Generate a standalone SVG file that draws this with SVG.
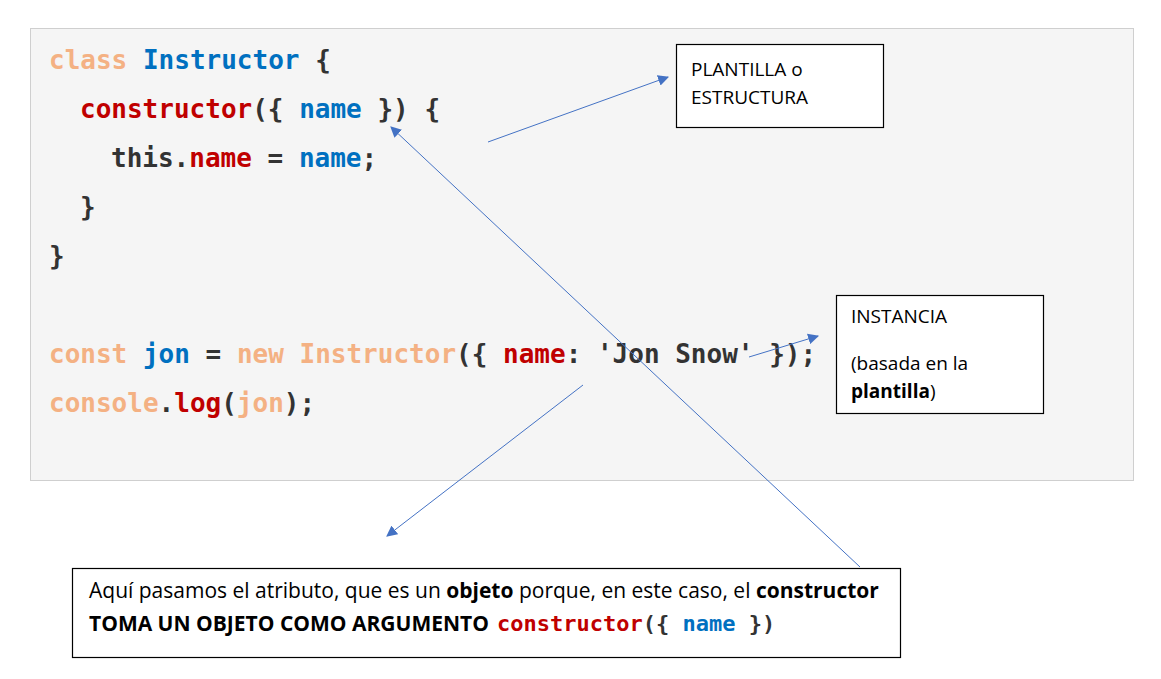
<svg xmlns="http://www.w3.org/2000/svg" width="1161" height="679" viewBox="0 0 1161 679">
  <style>
    .code { font-family: "DejaVu Sans Mono", "Liberation Mono", monospace; font-weight: bold; font-size: 26px; fill: #333333; }
    .kw { fill: #F4B183; }
    .id { fill: #0070C0; }
    .red { fill: #C00000; }
    .box { fill: #FFFFFF; stroke: #000000; stroke-width: 1.2; }
    .label { font-family: "Open Sans", "Liberation Sans", sans-serif; font-size: 19px; fill: #000000; }
    .note { font-size: 21px; }
    .b { font-weight: bold; }
    .conn { stroke: #4472C4; stroke-width: 1; fill: none; marker-end: url(#arrow); }
  </style>
  <defs>
    <marker id="arrow" viewBox="0 0 10 10" refX="9" refY="5" markerWidth="11" markerHeight="11" markerUnits="userSpaceOnUse" orient="auto">
      <path d="M0,0 L10,5 L0,10 Z" fill="#4472C4"/>
    </marker>
  </defs>
  <rect width="1161" height="679" fill="#FFFFFF"/>

  <!-- code panel -->
  <g id="code">
    <rect x="30.5" y="28.5" width="1103" height="452" fill="#F5F5F5" stroke="#CFCFCF" stroke-width="1"/>
    <text class="code" xml:space="preserve" x="49" y="69"><tspan class="kw">class</tspan> <tspan class="id">Instructor</tspan> {</text>
    <text class="code" xml:space="preserve" x="80" y="118"><tspan class="red">constructor</tspan>({ <tspan class="id">name</tspan> }) {</text>
    <text class="code" xml:space="preserve" x="111" y="167">this.<tspan class="red">name</tspan> = <tspan class="id">name</tspan>;</text>
    <text class="code" xml:space="preserve" x="80" y="216">}</text>
    <text class="code" xml:space="preserve" x="49" y="265">}</text>
    <text class="code" xml:space="preserve" x="49" y="363"><tspan class="kw">const</tspan> <tspan class="id">jon</tspan> = <tspan class="kw">new</tspan> <tspan class="kw">Instructor</tspan>({ <tspan class="red">name</tspan>: 'Jon Snow' });</text>
    <text class="code" xml:space="preserve" x="49" y="412"><tspan class="kw">console</tspan>.<tspan class="red">log</tspan>(<tspan class="kw">jon</tspan>);</text>
  </g>

  <!-- template label -->
  <g id="plantilla">
    <rect class="box" x="676.5" y="44.5" width="207" height="83"/>
    <text class="label" x="691" y="76">PLANTILLA o</text>
    <text class="label" x="691" y="104">ESTRUCTURA</text>
  </g>

  <!-- instance label -->
  <g id="instancia">
    <rect class="box" x="836.5" y="295.5" width="207" height="118"/>
    <text class="label" x="851" y="323">INSTANCIA</text>
    <text class="label" x="851" y="370">(basada en la</text>
    <text class="label" x="851" y="398"><tspan class="b">plantilla</tspan>)</text>
  </g>

  <!-- explanation note -->
  <g id="nota">
    <rect class="box" x="72.5" y="568.5" width="828" height="89"/>
    <text class="label note" x="89" y="598">Aquí pasamos el atributo, que es un <tspan class="b">objeto</tspan> porque, en este caso, el <tspan class="b">constructor</tspan></text>
    <text class="label note b" xml:space="preserve" x="89" y="631">TOMA UN OBJETO COMO ARGUMENTO <tspan class="code" style="font-size:22px" x="497"><tspan class="red">constructor</tspan>({ <tspan class="id">name</tspan> })</tspan></text>
  </g>

  <!-- connectors -->
  <g id="connectors">
    <line class="conn" x1="488" y1="142" x2="668" y2="77"/>
    <line class="conn" x1="860" y1="567" x2="391" y2="127"/>
    <line class="conn" x1="749" y1="357" x2="818" y2="336"/>
    <line class="conn" x1="583" y1="385" x2="387" y2="536"/>
  </g>
</svg>
